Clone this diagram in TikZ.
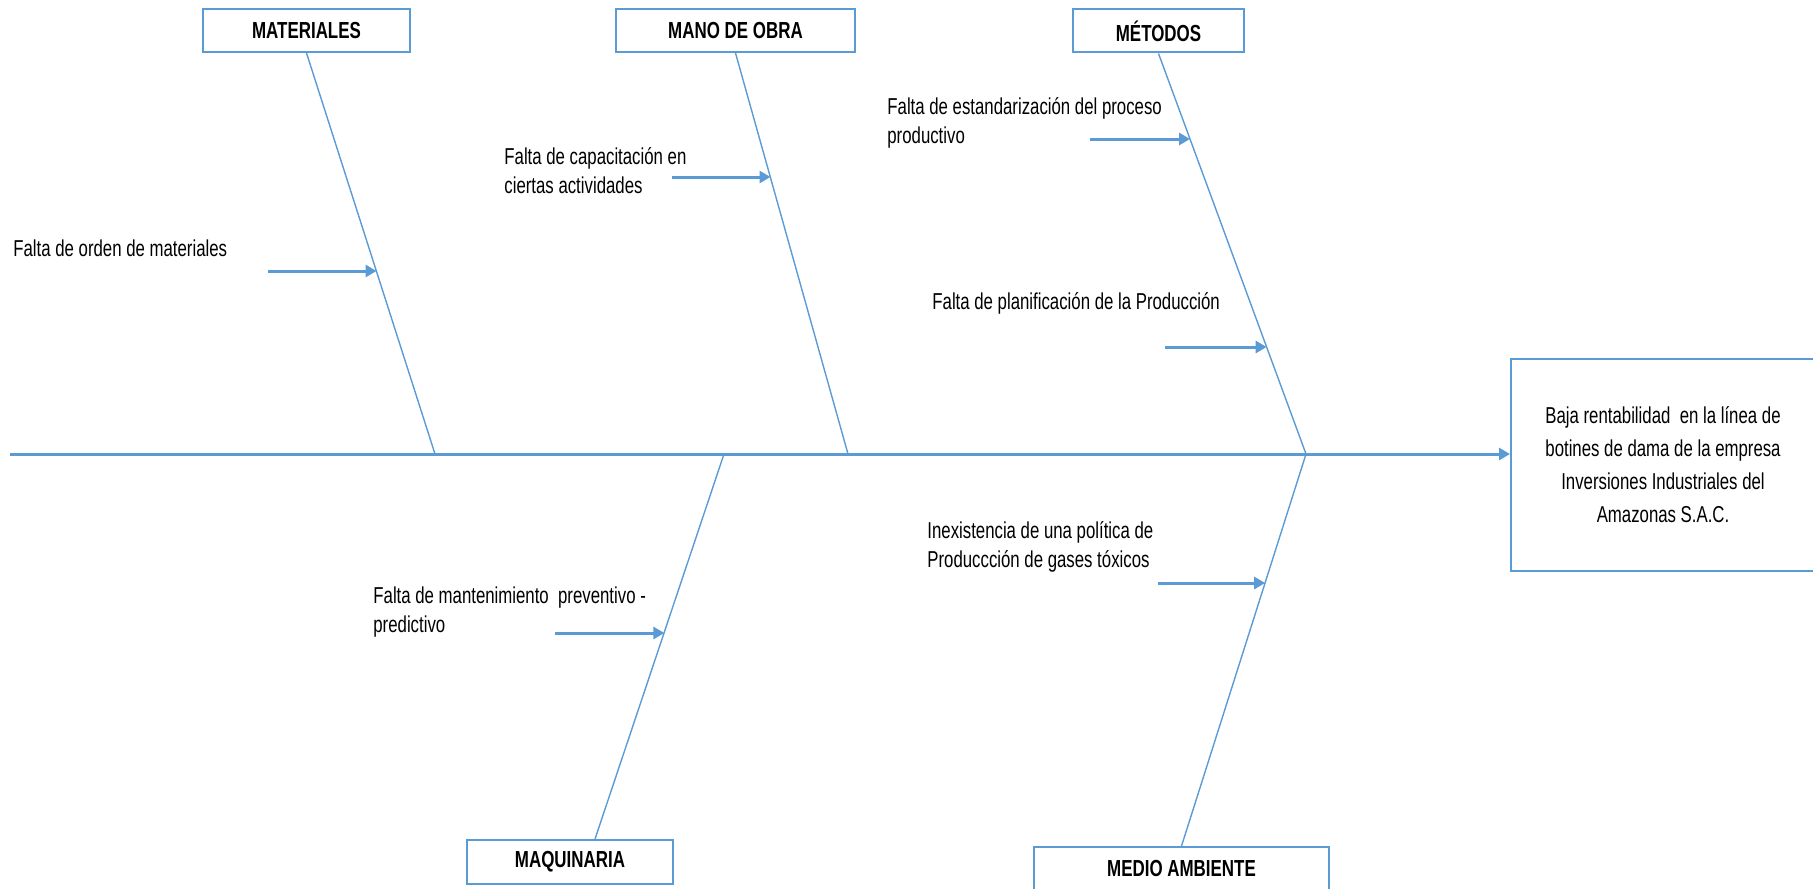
\documentclass[tikz,border=0pt]{standalone}
\usepackage{fontspec}
\setmainfont{Liberation Sans}[FakeStretch=0.73]
\usetikzlibrary{arrows.meta,calc}
\definecolor{espina}{HTML}{5B9BD5}
\tikzset{
  categoria/.style={draw=espina,line width=1pt,minimum height=21.5pt,inner sep=0pt,
    font=\fontsize{11.6}{14}\selectfont\bfseries},
  causa/.style={anchor=west,align=left,inner sep=0pt,font=\fontsize{11.5}{14.5}\selectfont},
  efecto/.style={draw=espina,line width=1pt,minimum width=152pt,minimum height=106pt,
    align=center,inner sep=0pt,font=\fontsize{11.5}{16.5}\selectfont},
  hueso/.style={draw=espina,line width=0.7pt},
  flecha/.style={draw=espina,line width=1.5pt,-{Triangle[length=5.5pt,width=6pt]}}
}
\begin{document}
\begin{tikzpicture}[x=0.5pt,y=-0.5pt]
           \useasboundingbox (0,0) rectangle (1813,888);
           \node[categoria,minimum width=103.5pt] (mat) at (306.5,30.5) {MATERIALES};
           \node[categoria,minimum width=119.5pt] (mano) at (735.5,30.5) {MANO DE OBRA};
           \node[categoria,minimum width=85.5pt] (met) at (1158.5,31) {MÉTODOS};
           \node[categoria,minimum width=103pt,minimum height=22pt] (maq) at (570,862) {MAQUINARIA};
           \node[categoria,minimum width=147.5pt,minimum height=22pt] (amb) at (1181.5,869) {MEDIO AMBIENTE};
           \node[efecto] (efe) at (1663,465) {Baja rentabilidad\ \ en la línea de\\botines de dama de la empresa\\Inversiones Industriales del\\Amazonas S.A.C.};
           \coordinate (cola) at (10,454);
           \coordinate (jmat) at (435,454);
           \coordinate (jmano) at (848,454);
           \coordinate (jmaq) at (724,454);
           \coordinate (jmet) at (1306,454);
           \draw[flecha] (cola) -- (cola -| efe.west);
           \draw[hueso] (mat.south) -- (jmat);
           \draw[hueso] (mano.south) -- (jmano);
           \draw[hueso] (met.south) -- (jmet);
           \draw[hueso] ([xshift=12.5pt]maq.north) -- (jmaq);
           \draw[hueso] (amb.north) -- (jmet);
           \coordinate (p1) at ($(mat.south)!0.545!(jmat)$);
           \coordinate (p2) at ($(mano.south)!0.311!(jmano)$);
           \coordinate (p3) at ($(met.south)!0.214!(jmet)$);
           \coordinate (p4) at ($(met.south)!0.733!(jmet)$);
           \coordinate (p5) at ($([xshift=12.5pt]maq.north)!0.538!(jmaq)$);
           \coordinate (p6) at ($(amb.north)!0.672!(jmet)$);
           \coordinate (o1) at (268,271);
           \coordinate (o2) at (672,177);
           \coordinate (o3) at (1090,139);
           \coordinate (o4) at (1165,347);
           \coordinate (o5) at (555,633);
           \coordinate (o6) at (1158,583);
           \draw[flecha] (o1) -- (o1 -| p1);
           \draw[flecha] (o2) -- (o2 -| p2);
           \draw[flecha] (o3) -- (o3 -| p3);
           \draw[flecha] (o4) -- (o4 -| p4);
           \draw[flecha] (o5) -- (o5 -| p5);
           \draw[flecha] (o6) -- (o6 -| p6);
           \node[causa] (c1) at (13,248) {Falta de orden de materiales};
           \node[causa] (c2) at (504,171) {Falta de capacitación en\\ciertas actividades};
           \node[causa] (c3) at (887,123) {Falta de estandarización del proceso\\productivo};
           \node[causa] (c4) at (932,303) {Falta de planificación de la Producción};
           \node[causa] (c5) at (373,612) {Falta de mantenimiento\ \ preventivo -\\predictivo};
           \node[causa] (c6) at (927,547) {Inexistencia de una política de\\Produccción de gases tóxicos};
       \end{tikzpicture}
\end{document}
